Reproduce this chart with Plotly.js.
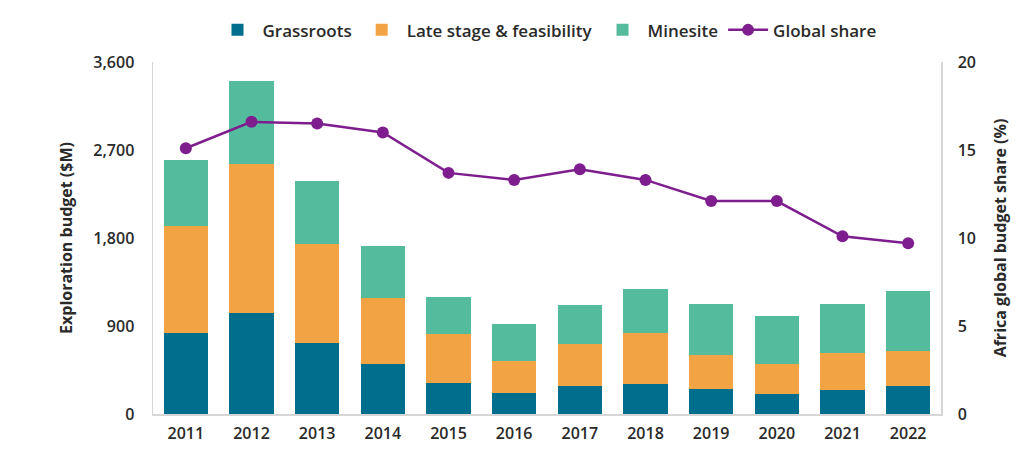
<!DOCTYPE html>
<html>
<head>
<meta charset="utf-8">
<script src="https://cdn.plot.ly/plotly-3.0.1.min.js"></script>
<style>html,body{margin:0;padding:0;background:#fff;}#chart{width:1024px;height:462px;}</style>
</head>
<body>
<div id="chart"></div>
<script>
const years = ["2011","2012","2013","2014","2015","2016","2017","2018","2019","2020","2021","2022"];
const grassroots = [828, 1037, 723, 507, 318, 210, 284, 311, 253, 203, 243, 284];
const lateStage = [1096, 1521, 1014, 676, 500, 331, 433, 514, 355, 311, 379, 358];
const minesite = [675, 852, 643, 531, 382, 379, 398, 449, 514, 490, 507, 615];
const globalShare = [15.1, 16.6, 16.5, 16.0, 13.7, 13.3, 13.9, 13.3, 12.1, 12.1, 10.1, 9.7];

const fontFam = "'Open Sans', Roboto, 'Liberation Sans', Arial, sans-serif";
const txt = "#2a2a2a";
const traces = [
  {type:"bar", name:"Grassroots", x:years, y:grassroots, marker:{color:"#006E8C"}},
  {type:"bar", name:"Late stage & feasibility", x:years, y:lateStage, marker:{color:"#F2A444"}},
  {type:"bar", name:"Minesite", x:years, y:minesite, marker:{color:"#55BB9D"}},
  {type:"scatter", mode:"lines+markers", name:"Global share", x:years, y:globalShare, yaxis:"y2",
   line:{color:"#7E1E8E", width:2.5}, marker:{color:"#7E1E8E", size:12}}
];
const layout = {
  width:1024, height:462,
  margin:{l:153, r:83, t:56, b:48},
  barmode:"stack", bargap:0.32,
  paper_bgcolor:"#fff", plot_bgcolor:"#fff",
  font:{family:fontFam, size:16, color:txt, weight:600},
  showlegend:true,
  legend:{orientation:"h", x:0.5, xanchor:"center", y:1.09, yanchor:"middle",
          font:{size:17, color:txt, weight:600}, traceorder:"normal", itemwidth:40},
  xaxis:{type:"category", range:[-0.5, 11.5], automargin:false, showline:true, linecolor:"#d6d6d6", linewidth:1.5, ticks:"", showgrid:false,
         ticklabelstandoff:4, tickfont:{size:16, color:txt, weight:600}},
  yaxis:{range:[0,3600], dtick:900, tickformat:",", automargin:false, showline:true, linecolor:"#d6d6d6", linewidth:1.5,
         showgrid:false, zeroline:false, ticks:"", ticklabelstandoff:14,
         tickfont:{size:16, color:txt, weight:600},
         title:{text:"Exploration budget ($M)", font:{size:16, color:txt, weight:700}, standoff:16}},
  yaxis2:{range:[0,20], dtick:5, overlaying:"y", side:"right", automargin:false, showline:true, linecolor:"#d6d6d6", linewidth:1.5,
          showgrid:false, zeroline:false, ticks:"", ticklabelstandoff:12,
          tickfont:{size:16, color:txt, weight:600},
          title:{text:"Africa global budget share (%)", font:{size:16, color:txt, weight:700}, standoff:20}}
};
Plotly.newPlot("chart", traces, layout, {displayModeBar:false, staticPlot:true});
</script>
</body>
</html>
